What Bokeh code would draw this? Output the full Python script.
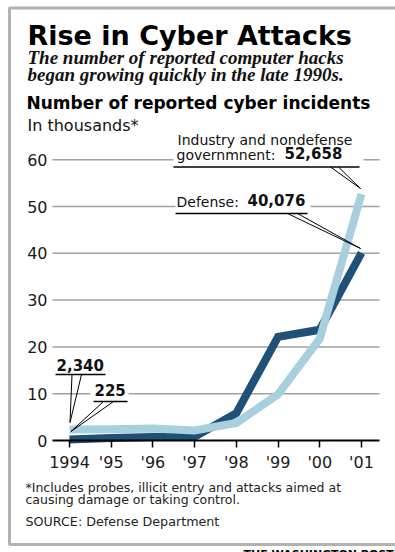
from bokeh.plotting import figure
from bokeh.models import Label, FixedTicker, BoxAnnotation
from bokeh.embed import file_html
from bokeh.resources import INLINE

# ---- data (thousands of reported incidents) ----
years = [1994, 1995, 1996, 1997, 1998, 1999, 2000, 2001]
year_labels = ["1994", "'95", "'96", "'97", "'98", "'99", "'00", "'01"]
industry = [2.340, 2.412, 2.573, 2.134, 3.734, 9.859, 21.756, 52.658]
defense = [0.225, 0.559, 0.730, 0.780, 5.844, 22.144, 23.662, 40.076]
y_ticks = [0, 10, 20, 30, 40, 50, 60]

# ---- layout constants (pixels) ----
W, H = 395, 552
AX_L, AX_R, AX_B = 52, 379, 440   # plot area: left, right, zero line (px)
PXY = 41.71   # pixels per year
PXV = 4.68    # pixels per thousand
x0 = years[0] - 69 / PXY
x1 = x0 + W / PXY
y1 = AX_B / PXV
y0 = y1 - H / PXV

DARK = "#1f5078"
LIGHT = "#a8cfdd"
SANS = "DejaVu Sans"

p = figure(width=W, height=H, x_range=(x0, x1), y_range=(y0, y1),
           min_border=0, min_border_left=0, min_border_right=0,
           min_border_top=0, min_border_bottom=0,
           output_backend="svg", toolbar_location=None)
p.outline_line_color = None
p.background_fill_color = "white"
p.border_fill_color = "white"


def X(px):
    return x0 + px / PXY


def Y(py):
    return (AX_B - py) / PXV


# axes, pinned inside the canvas
p.xaxis.fixed_location = 0
p.xaxis.bounds = (X(AX_L), X(AX_R))
p.xaxis.ticker = FixedTicker(ticks=years)
p.xaxis.major_label_overrides = {y: l for y, l in zip(years, year_labels)}
p.xaxis.axis_line_color = "black"
p.xaxis.axis_line_width = 2
p.xaxis.major_tick_in = 0
p.xaxis.major_tick_out = 7
p.xaxis.major_tick_line_color = "black"
p.xaxis.major_tick_line_width = 1.5
p.xaxis.minor_tick_line_color = None
p.xaxis.major_label_standoff = 5
p.xaxis.major_label_text_font = SANS
p.xaxis.major_label_text_font_size = "16px"
p.xaxis.major_label_text_color = "#1a1a1a"

p.yaxis.fixed_location = X(AX_L)
p.yaxis.bounds = (0, 60)
p.yaxis.ticker = FixedTicker(ticks=y_ticks)
p.yaxis.axis_line_color = None
p.yaxis.major_tick_in = 0
p.yaxis.major_tick_out = 0
p.yaxis.minor_tick_line_color = None
p.yaxis.major_label_standoff = 5
p.yaxis.major_label_text_font = SANS
p.yaxis.major_label_text_font_size = "16px"
p.yaxis.major_label_text_color = "#1a1a1a"

p.xgrid.visible = False
p.ygrid.visible = False
grid_vals = y_ticks[1:]
p.segment(x0=[X(AX_L)] * len(grid_vals), x1=[X(AX_R)] * len(grid_vals),
          y0=grid_vals, y1=grid_vals, line_color="#a0a0a0", line_width=1.5)

# white masks behind the callout labels (gaps in grid lines)
masks = [(173, 363, 133, 168), (175, 310, 195, 214), (90, 128, 382, 402)]
p.quad(left=[X(m[0]) for m in masks], right=[X(m[1]) for m in masks],
       top=[Y(m[2]) for m in masks], bottom=[Y(m[3]) for m in masks],
       fill_color="white", line_color=None)

# data lines
p.line(years, defense, line_width=8, line_color=DARK, line_join="miter")
p.line(years, industry, line_width=8, line_color=LIGHT, line_join="miter")

# underlines and wedge leaders
unders = [(55, 105, 374), (93, 127, 401), (173, 359, 166.5), (175, 307, 213)]
p.multi_line(xs=[[X(u[0]), X(u[1])] for u in unders],
             ys=[[Y(u[2]), Y(u[2])] for u in unders],
             line_color="black", line_width=1.3)
leaders = [((71.5, 81), 374, (69.5, 422)),
           ((103, 113), 401, (70.5, 431)),
           ((330, 338), 166.5, (360, 188)),
           ((287, 297), 213, (360, 248))]
lx, ly = [], []
for (a, b), yy, (tx, ty) in leaders:
    lx.append([X(a), X(tx), X(b)])
    ly.append([Y(yy), Y(ty), Y(yy)])
p.multi_line(xs=lx, ys=ly, line_color="black", line_width=1)


def txt(px, py, s, size, style="normal", font=SANS, color="#111111"):
    # empirical correction of the baseline drawn by the svg backend
    k = 0.5 if "bold" in style else 0.42
    p.add_layout(Label(x=X(px), y=Y(py - k * size),
                       text=s, text_font=font,
                       text_font_size=f"{size}px", text_font_style=style,
                       text_baseline="alphabetic", text_align="left",
                       text_color=color))


txt(27, 48, "Rise in Cyber Attacks", 27, "bold", color="#000000")
txt(27, 66, "The number of reported computer hacks", 19, "bold italic", "Liberation Serif")
txt(27, 83, "began growing quickly in the late 1990s.", 19, "bold italic", "Liberation Serif")
txt(26, 111, "Number of reported cyber incidents", 17, "bold", color="#000000")
txt(27, 132, "In thousands*", 16)

txt(177, 145, "Industry and nondefense", 14)
txt(176, 160, "governmnent:", 14)
txt(284, 160, "52,658", 15, "bold")
txt(176, 207, "Defense:", 14)
txt(247, 207, "40,076", 15, "bold")
txt(56, 372, "2,340", 15, "bold")
txt(94, 397, "225", 15, "bold")

txt(25, 492, "*Includes probes, illicit entry and attacks aimed at", 12.5, color="#222222")
txt(25, 504, "causing damage or taking control.", 12.5, color="#222222")
txt(25, 526, "SOURCE: Defense Department", 12.7, color="#222222")
txt(243, 559, "THE WASHINGTON POST", 11, "bold", color="#000000")

# frame border
p.add_layout(BoxAnnotation(left=X(9), right=X(402), top=Y(7.5), bottom=Y(544),
                           fill_color=None, line_color="black", line_width=3))

open("out.html", "w").write(file_html(p, INLINE))
